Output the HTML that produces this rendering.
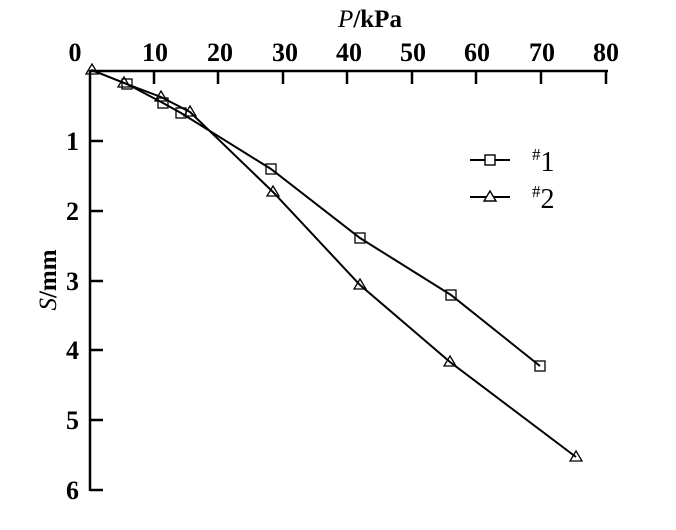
<!DOCTYPE html>
<html><head><style>body{margin:0;background:#fff}</style></head><body>
<svg width="676" height="525" xmlns="http://www.w3.org/2000/svg" font-family="Liberation Serif, serif" font-weight="bold">
<rect width="676" height="525" fill="#fff"/>
<g stroke="#000" stroke-width="2.5" fill="none">
<line x1="90" y1="71" x2="608" y2="71"/>
<line x1="90" y1="70" x2="90" y2="491"/>
<path d="M154 71v13M218 71v13M283 71v13M347 71v13M412 71v13M476 71v13M541 71v13M606 71v13"/>
<path d="M90 141h13M90 211h13M90 281h13M90 350h13M90 420h13M90 490h13"/>
</g>
<g font-size="26" text-anchor="middle">
<text x="75" y="61">0</text><text x="155" y="61">10</text><text x="220" y="61">20</text><text x="285" y="61">30</text><text x="349" y="61">40</text><text x="413" y="61">50</text><text x="477" y="61">60</text><text x="542" y="61">70</text><text x="606" y="61">80</text>
</g>
<g font-size="26" text-anchor="end">
<text x="79" y="150">1</text><text x="79" y="220">2</text><text x="79" y="290">3</text><text x="79" y="359">4</text><text x="79" y="429">5</text><text x="79" y="499">6</text>
</g>
<text x="370" y="27" font-size="25" text-anchor="middle"><tspan font-style="italic" font-weight="normal">P</tspan>/kPa</text>
<text transform="translate(56,280) rotate(-90)" font-size="25" text-anchor="middle"><tspan font-style="italic" font-weight="normal">S</tspan>/mm</text>
<g stroke="#000" stroke-width="2" fill="none">
<polyline points="91,70 127,84 163,103 181,113 271,169 360,238 451,295 540,366"/>
<polyline points="92,70 124,83 161,97 190,112 273,192 360,285 450,362 576,457"/>
<line x1="470" y1="160" x2="510" y2="160"/>
<line x1="470" y1="197" x2="510" y2="197"/>
<g fill="#fff" stroke-width="1.4">
<rect x="485" y="155" width="10" height="10"/>
<path d="M490 191l6 10h-12z"/>
</g>
</g>
<g stroke="#000" stroke-width="1.3" fill="none">
<rect x="122" y="79" width="10" height="10"/><rect x="158" y="98" width="10" height="10"/><rect x="176" y="108" width="10" height="10"/><rect x="266" y="164" width="10" height="10"/><rect x="355" y="233" width="10" height="10"/><rect x="446" y="290" width="10" height="10"/><rect x="535" y="361" width="10" height="10"/>
<path d="M92 64l6 10h-12zM124 77l6 10h-12zM161 91l6 10h-12zM190 106l6 10h-12zM273 186l6 10h-12zM360 279l6 10h-12zM450 356l6 10h-12zM576 451l6 10h-12z"/>
</g>
<text x="532" y="171" font-size="28" font-weight="normal"><tspan font-size="17" dy="-11">#</tspan><tspan dy="11">1</tspan></text>
<text x="532" y="208" font-size="28" font-weight="normal"><tspan font-size="17" dy="-11">#</tspan><tspan dy="11">2</tspan></text>
</svg>
</body></html>
